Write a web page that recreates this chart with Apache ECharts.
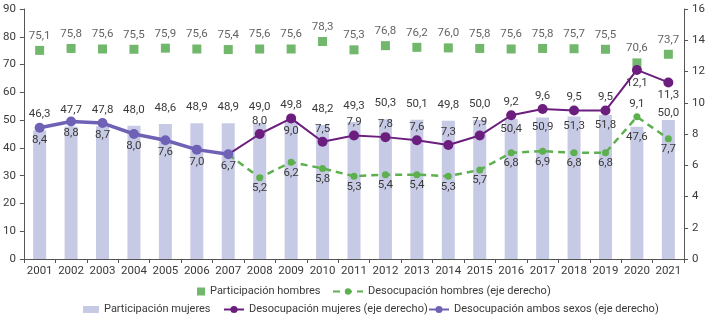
<!DOCTYPE html>
<html>
<head>
<meta charset="utf-8">
<script src="https://cdn.jsdelivr.net/npm/echarts@6/dist/echarts.min.js"></script>
<style>
html,body{margin:0;padding:0;background:#fff;}
#c{width:708px;height:320px;}
</style>
</head>
<body>
<div id="c"></div>
<script>
var years = ['2001','2002','2003','2004','2005','2006','2007','2008','2009','2010','2011','2012','2013','2014','2015','2016','2017','2018','2019','2020','2021'];
var partHombres = [75.1,75.8,75.6,75.5,75.9,75.6,75.4,75.6,75.6,78.3,75.3,76.8,76.2,76.0,75.8,75.6,75.8,75.7,75.5,70.6,73.7];
var partMujeres = [46.3,47.7,47.8,48.0,48.6,48.9,48.9,49.0,49.8,48.2,49.3,50.3,50.1,49.8,50.0,50.4,50.9,51.3,51.8,47.6,50.0];
var desAmbos = [8.4,8.8,8.7,8.0,7.6,7.0,6.7,null,null,null,null,null,null,null,null,null,null,null,null,null,null];
var desMujeres = [null,null,null,null,null,null,6.7,8.0,9.0,7.5,7.9,7.8,7.6,7.3,7.9,9.2,9.6,9.5,9.5,12.1,11.3];
var desHombres = [null,null,null,null,null,null,6.7,5.2,6.2,5.8,5.3,5.4,5.4,5.3,5.7,6.8,6.9,6.8,6.8,9.1,7.7];
var leftTicks = {min:0, max:90, interval:10};
var rightTicks = {min:0, max:16, interval:2};

var FONT = 'Roboto, "Liberation Sans", sans-serif';
var FS = 11.5;
var LFS = 11;
var TXT = '#3a3a3a';
var fmt = function(p){ return (typeof p.value === 'number') ? p.value.toFixed(1).replace('.', ',') : ''; };
var lbl = {show:true, fontFamily:FONT, fontSize:FS, color:TXT, formatter:fmt};

var C_BAR = '#c7cae5', C_SQ = '#4fa647', C_DH = '#5cb04e', C_DM = '#6b1e7e', C_DA = '#6f61b6';

var barData = partMujeres.map(function(v,i){
  if (i >= 15 && i <= 19) return {value:v, label:{position:'insideTop', distance:4}};
  if (i === 20) return {value:v, label:{distance:1}};
  return v;
});
var mujData = desMujeres.map(function(v,i){
  if (v === null) return null;
  if (i === 6) return {value:v, symbol:'none', label:{show:false}};
  if (i === 8 || i === 19 || i === 20) return {value:v, label:{position:'bottom'}};
  return v;
});
var homData = desHombres.map(function(v,i){
  if (v === null) return null;
  if (i === 6) return {value:v, symbol:'none', label:{show:false}};
  if (i === 19) return {value:v, label:{position:'top', distance:3}};
  return v;
});

function leg(name, left, top, w, h, icon){
  var o = {show:true, data:[name], left:left, top:top, padding:0, itemWidth:w, itemHeight:h,
    textStyle:{fontFamily:FONT, fontSize:LFS, color:TXT}, itemGap:0, selectedMode:false};
  if (icon) o.icon = icon;
  return o;
}

var chart = echarts.init(document.getElementById('c'), null, {renderer:'canvas'});
chart.setOption({
  animation:false,
  grid:{left:15, right:20, top:9, bottom:61, containLabel:false},
  legend:[
    leg('Participación hombres', 197, 286, 8, 8, 'rect'),
    leg('Desocupación hombres (eje derecho)', 332, 286, 30, 8),
    leg('Participación mujeres', 83, 304, 16, 7, 'rect'),
    leg('Desocupación mujeres (eje derecho)', 223, 304, 20, 9),
    leg('Desocupación ambos sexos (eje derecho)', 428, 304, 20, 9)
  ],
  xAxis:{
    type:'category', data:years, boundaryGap:true,
    axisLine:{lineStyle:{color:'#555', width:1}},
    axisTick:{show:true, length:4, alignWithLabel:false, lineStyle:{color:'#555'}},
    axisLabel:{fontFamily:FONT, fontSize:FS, color:TXT, margin:6, interval:0}
  },
  yAxis:[
    {type:'value', min:leftTicks.min, max:leftTicks.max, interval:leftTicks.interval,
     axisLine:{show:true, lineStyle:{color:'#555'}},
     axisTick:{show:true, length:4, lineStyle:{color:'#555'}},
     splitLine:{show:false},
     axisLabel:{fontFamily:FONT, fontSize:FS, color:TXT, margin:8}},
    {type:'value', min:rightTicks.min, max:rightTicks.max, interval:rightTicks.interval, position:'right',
     axisLine:{show:true, lineStyle:{color:'#555'}},
     axisTick:{show:true, length:4, lineStyle:{color:'#555'}},
     splitLine:{show:false},
     axisLabel:{fontFamily:FONT, fontSize:FS, color:TXT, margin:8}}
  ],
  series:[
    {name:'Participación mujeres', type:'bar', yAxisIndex:0, data:barData, barWidth:13,
     itemStyle:{color:C_BAR}, label:Object.assign({}, lbl, {position:'top', distance:10}), z:1},
    {name:'Participación hombres', type:'scatter', yAxisIndex:0, data:partHombres, symbol:'rect', symbolSize:9,
     itemStyle:{color:C_SQ}, label:Object.assign({}, lbl, {position:'top', distance:4}), z:2},
    {name:'Desocupación hombres (eje derecho)', type:'line', yAxisIndex:1, data:homData, symbol:'circle', symbolSize:7,
     showAllSymbol:true, connectNulls:false,
     lineStyle:{color:C_DH, width:2.5, type:[7,5]}, itemStyle:{color:C_DH},
     label:Object.assign({}, lbl, {position:'bottom', distance:1}), z:3},
    {name:'Desocupación mujeres (eje derecho)', type:'line', yAxisIndex:1, data:mujData, symbol:'circle', symbolSize:10,
     showAllSymbol:true,
     lineStyle:{color:C_DM, width:2}, itemStyle:{color:C_DM},
     label:Object.assign({}, lbl, {position:'top', distance:2}), z:4},
    {name:'Desocupación ambos sexos (eje derecho)', type:'line', yAxisIndex:1, data:desAmbos, symbol:'circle', symbolSize:10,
     showAllSymbol:true,
     lineStyle:{color:C_DA, width:3.5}, itemStyle:{color:C_DA},
     label:Object.assign({}, lbl, {position:'bottom', distance:1}), z:5}
  ]
});
</script>
</body>
</html>
